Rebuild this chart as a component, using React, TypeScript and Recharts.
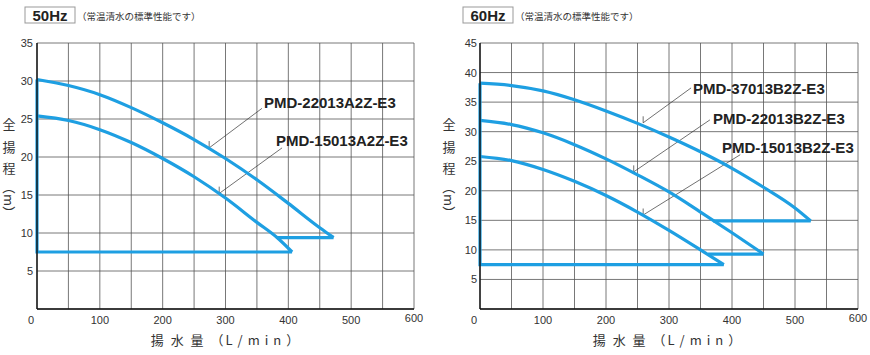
import React from 'react';
import { LineChart, Line, XAxis, YAxis, CartesianGrid, ReferenceLine } from 'recharts';

// 50Hz curves
const flow50_22013 = [0, 50, 100, 150, 200, 250, 300, 350, 400, 450, 472];
const head50_22013 = [30.2, 29.4, 28.2, 26.5, 24.5, 22.3, 19.8, 17.0, 13.9, 10.7, 9.4];
const flow50_15013 = [0, 50, 100, 150, 200, 250, 300, 350, 382, 406];
const head50_15013 = [25.4, 24.8, 23.6, 21.9, 19.8, 17.4, 14.6, 11.4, 9.4, 7.5];
const shelf50Flow = [382, 472];
const shelf50Head = [9.4, 9.4];
const frame50Flow = [0, 0, 406];
const frame50Head = [30.2, 7.5, 7.5];

// 60Hz curves
const flow60_37013 = [0, 50, 100, 150, 200, 250, 300, 350, 400, 450, 500, 525];
const head60_37013 = [38.2, 37.8, 36.9, 35.4, 33.5, 31.4, 29.1, 26.6, 23.8, 20.6, 17.1, 14.9];
const flow60_22013 = [0, 50, 100, 150, 200, 250, 300, 350, 400, 450];
const head60_22013 = [31.9, 31.2, 29.8, 27.8, 25.4, 22.7, 19.8, 16.4, 12.9, 9.3];
const flow60_15013 = [0, 50, 100, 150, 200, 250, 300, 350, 387];
const head60_15013 = [25.8, 25.1, 23.6, 21.6, 19.2, 16.4, 13.3, 10.0, 7.5];
const shelf60aFlow = [370, 525];
const shelf60aHead = [14.9, 14.9];
const shelf60bFlow = [362, 450];
const shelf60bHead = [9.3, 9.3];
const frame60Flow = [0, 0, 387];
const frame60Head = [38.2, 7.5, 7.5];

const xTicks = [0, 50, 100, 150, 200, 250, 300, 350, 400, 450, 500, 550, 600];
const yTicks50 = [0, 5, 10, 15, 20, 25, 30, 35];
const yTicks60 = [0, 5, 10, 15, 20, 25, 30, 35, 40, 45];

const BLUE = '#1e9fe2';
const LATIN = '"Liberation Sans", Arial, sans-serif';
const JP = '"Noto Sans CJK JP", sans-serif';

const pts = (xs: number[], ys: number[]) => xs.map((x, i) => ({ x, y: ys[i] }));

const XTick = (props: any) => {
  const { x, y, payload } = props;
  const v = payload.value;
  if (v % 100 !== 0) return <g />;
  const dx = v === 0 ? -6 : 0;
  const dy = v === 600 ? -2 : 0;
  return (
    <text x={x + dx} y={y + 15 + dy} textAnchor="middle" fontSize={11} fill="#333" fontFamily={LATIN}>
      {v}
    </text>
  );
};

const YTick = (props: any) => {
  const { x, y, payload } = props;
  if (payload.value === 0) return <g />;
  return (
    <text x={x} y={y + 4} textAnchor="end" fontSize={11} fill="#333" fontFamily={LATIN}>
      {payload.value}
    </text>
  );
};

const curve = (data: { x: number; y: number }[], type: 'monotone' | 'linear') => (
  <Line
    data={data}
    dataKey="y"
    type={type}
    stroke={BLUE}
    strokeWidth={3.2}
    dot={false}
    activeDot={false}
    isAnimationActive={false}
  />
);

const leader = (x0: number, y0: number, x1: number, y1: number, tick: number) => [
  <ReferenceLine key={'a' + x0} segment={[{ x: x0, y: y0 }, { x: x1, y: y1 }]} stroke="#333" strokeWidth={0.7} />,
  <ReferenceLine key={'b' + x0} segment={[{ x: x0, y: y0 }, { x: x0, y: y0 + tick }]} stroke="#333" strokeWidth={0.7} />,
];

function Panel(props: {
  width: number;
  yWidth: number;
  right: number;
  yMax: number;
  yTicks: number[];
  children: React.ReactNode;
}) {
  return (
    <LineChart width={props.width} height={355} margin={{ top: 43, right: props.right, bottom: 16, left: 0 }}>
      <CartesianGrid stroke="#555" strokeWidth={0.8} />
      <XAxis
        type="number"
        dataKey="x"
        domain={[0, 600]}
        ticks={xTicks}
        interval={0}
        tickSize={0}
        tickMargin={0}
        height={30}
        tick={<XTick />}
        axisLine={{ stroke: '#111', strokeWidth: 1.4 }}
      />
      <YAxis
        type="number"
        domain={[0, props.yMax]}
        ticks={props.yTicks}
        interval={0}
        tickSize={0}
        tickMargin={props.yWidth === 37 ? 4 : 3}
        width={props.yWidth}
        tick={<YTick />}
        axisLine={{ stroke: '#111', strokeWidth: 1.4 }}
      />
      {props.children}
    </LineChart>
  );
}

const Header = ({ x, label }: { x: number; label: string }) => (
  <g>
    <rect x={x} y={7} width={50} height={16} fill="#fff" stroke="#999" strokeWidth={1} />
    <text x={x + 25} y={20.5} textAnchor="middle" fontSize={15} fontWeight="bold" fill="#222" fontFamily={LATIN}>
      {label}
    </text>
    <text x={x + 52} y={20} fontSize={9.5} fill="#333" fontFamily={JP}>
      （常温清水の標準性能です）
    </text>
  </g>
);

const YLabel = ({ x }: { x: number }) => (
  <g fontFamily={JP} fontSize={13} fill="#333" textAnchor="middle">
    <text x={x} y={128.5}>全</text>
    <text x={x} y={151.5}>揚</text>
    <text x={x} y={172.5}>程</text>
    <text x={0} y={0} transform={`translate(${x},200) rotate(90)`} dominantBaseline="central">
      （m）
    </text>
  </g>
);

const XLabel = ({ x }: { x: number }) => (
  <text x={x} y={345} textAnchor="middle" fontSize={13} fill="#333" fontFamily={JP} letterSpacing={2}>
    揚 水 量 （<tspan letterSpacing={5}>L/min</tspan>）
  </text>
);

const Model = ({ x, y, text }: { x: number; y: number; text: string }) => (
  <text x={x} y={y} fontSize={15} fontWeight="bold" fill="#222" fontFamily={LATIN}>
    {text}
  </text>
);

export default function App() {
  return (
    <div style={{ position: 'absolute', left: 0, top: 0, width: 870, height: 355, background: '#fff' }}>
      <div style={{ position: 'absolute', left: 0, top: 0 }}>
        <Panel width={430} yWidth={37} right={16} yMax={35} yTicks={yTicks50}>
          {leader(274, 21.2, 358, 26.4, 0.9)}
          {leader(290, 15.2, 390, 21.2, 0.9)}
          {curve(pts(flow50_22013, head50_22013), 'monotone')}
          {curve(pts(flow50_15013, head50_15013), 'monotone')}
          {curve(pts(shelf50Flow, shelf50Head), 'linear')}
          {curve(pts(frame50Flow, frame50Head), 'linear')}
        </Panel>
      </div>
      <div style={{ position: 'absolute', left: 430, top: 0 }}>
        <Panel width={440} yWidth={50} right={12} yMax={45} yTicks={yTicks60}>
          {leader(259, 31.5, 335, 37.4, 1.1)}
          {leader(244, 23.2, 365, 32.0, 1.1)}
          {leader(259, 15.9, 413, 26.1, 1.1)}
          {curve(pts(flow60_37013, head60_37013), 'monotone')}
          {curve(pts(flow60_22013, head60_22013), 'monotone')}
          {curve(pts(flow60_15013, head60_15013), 'monotone')}
          {curve(pts(shelf60aFlow, shelf60aHead), 'linear')}
          {curve(pts(shelf60bFlow, shelf60bHead), 'linear')}
          {curve(pts(frame60Flow, frame60Head), 'linear')}
        </Panel>
      </div>
      <svg
        width={870}
        height={355}
        style={{ position: 'absolute', left: 0, top: 0, pointerEvents: 'none' }}
      >
        <Header x={25} label="50Hz" />
        <Header x={463} label="60Hz" />
        <YLabel x={9} />
        <YLabel x={449} />
        <XLabel x={226} />
        <XLabel x={668} />
        <Model x={264} y={108} text="PMD-22013A2Z-E3" />
        <Model x={276} y={145.7} text="PMD-15013A2Z-E3" />
        <Model x={693} y={94} text="PMD-37013B2Z-E3" />
        <Model x={713} y={124} text="PMD-22013B2Z-E3" />
        <Model x={722} y={152.5} text="PMD-15013B2Z-E3" />
      </svg>
    </div>
  );
}
